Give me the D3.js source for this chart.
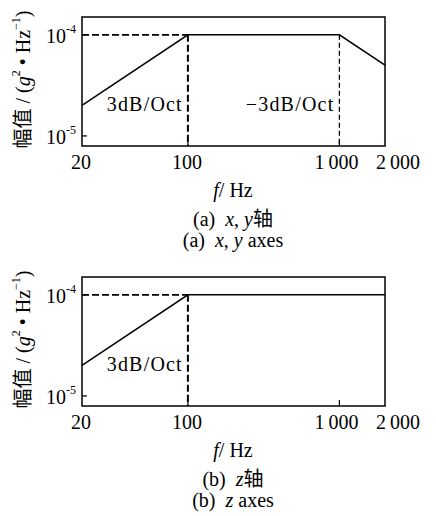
<!DOCTYPE html>
<html lang="en">
<head>
  <meta charset="utf-8">
  <title>PSD</title>
  <script src="https://d3js.org/d3.v7.min.js"></script>
  <style>
    body { margin: 0; background: #fff; }
    text { font-family: "Liberation Serif", "Noto Sans CJK SC", serif; fill: #000; }
  </style>
</head>
<body>
  <div id="chart"></div>
  <script>
    // axis ticks
    var freqTicks = [20, 100, 1000, 2000];
    var freqTickLabels = ["20", "100", "1\u2009000", "2\u2009000"];
    var psdTicks = [1e-4, 1e-5];
    var psdTickExp = ["-4", "-5"];

    // (a) x, y axes spectrum
    var xyFreq = [20, 100, 1000, 2000];
    var xyPsd = [2e-5, 1e-4, 1e-4, 5e-5];
    // (b) z axes spectrum
    var zFreq = [20, 100, 2000];
    var zPsd = [2e-5, 1e-4, 1e-4];

    var W = 436, H = 516;
    var margin = { left: 82 },
      width = 303,
      height = 129;

    var svg = d3.select("#chart").append("svg")
      .attr("width", W).attr("height", H);

    var x = d3.scaleLog().domain([20, 2000]).range([0, width]);
    var y = d3.scaleLog().domain([7.95e-6, 1.5e-4]).range([height, 0]);

    function drawPanel(top, freq, psd, guides, slopes, capCn, capEn) {
      var g = svg.append("g")
        .attr("transform", "translate(" + margin.left + "," + top + ")");

      // frame
      g.append("rect")
        .attr("width", width).attr("height", height)
        .attr("fill", "none").attr("stroke", "#000").attr("stroke-width", 1.5);

      // inner ticks
      g.selectAll(".yt").data(psdTicks).enter().append("line")
        .attr("x1", 0).attr("x2", 5)
        .attr("y1", d => y(d)).attr("y2", d => y(d))
        .attr("stroke", "#000").attr("stroke-width", 1.2);
      g.selectAll(".xt").data([100, 1000]).enter().append("line")
        .attr("x1", d => x(d)).attr("x2", d => x(d))
        .attr("y1", height).attr("y2", height - 6)
        .attr("stroke", "#000").attr("stroke-width", 1.2);

      // dashed guides
      g.append("line")
        .attr("x1", x(20)).attr("x2", x(100))
        .attr("y1", y(1e-4)).attr("y2", y(1e-4))
        .attr("stroke", "#000").attr("stroke-width", 1.8)
        .attr("stroke-dasharray", "7,3");
      guides.forEach(function (f) {
        g.append("line")
          .attr("x1", x(f.f)).attr("x2", x(f.f))
          .attr("y1", y(1e-4)).attr("y2", height)
          .attr("stroke", "#000").attr("stroke-width", f.w)
          .attr("stroke-dasharray", f.dash);
      });

      // spectrum line
      var line = d3.line().x((d, i) => x(freq[i])).y(d => y(d));
      g.append("path").datum(psd)
        .attr("d", line)
        .attr("fill", "none").attr("stroke", "#000").attr("stroke-width", 1.5);

      // slope labels
      slopes.forEach(function (s) {
        g.append("text")
          .attr("x", x(s.f) - 5).attr("y", height - 35)
          .attr("text-anchor", "end")
          .attr("font-size", 20)
          .attr("letter-spacing", 1.2)
          .text(s.t);
      });

      // x tick labels
      g.selectAll(".xl").data(freqTicks).enter().append("text")
        .attr("x", (d, i) => x(d) + (i === 3 ? 13 : (i === 2 ? -3 : -1)))
        .attr("y", height + 23)
        .attr("text-anchor", "middle")
        .attr("font-size", 20)
        .text((d, i) => freqTickLabels[i]);

      // y tick labels
      psdTicks.forEach(function (d, i) {
        var t = g.append("text")
          .attr("x", -6).attr("y", y(d) + 8)
          .attr("text-anchor", "end")
          .attr("font-size", 20);
        t.append("tspan").text("10");
        t.append("tspan").attr("font-size", 12).attr("dy", -10).text(psdTickExp[i]);
      });

      // y title
      var yt = g.append("text")
        .attr("transform", "translate(-52," + (height / 2 - 2) + ") rotate(-90)")
        .attr("text-anchor", "middle")
        .attr("font-size", 20);
      yt.append("tspan").text("幅值 / (");
      yt.append("tspan").attr("font-style", "italic").text("g");
      yt.append("tspan").attr("font-size", 12).attr("dy", -10).text("2");
      yt.append("tspan").attr("dy", 10).text(" \u2022 Hz");
      yt.append("tspan").attr("font-size", 12).attr("dy", -10).text("\u22121");
      yt.append("tspan").attr("dy", 10).text(")");

      // x title
      var xt = g.append("text")
        .attr("x", 151).attr("y", height + 51)
        .attr("text-anchor", "middle")
        .attr("font-size", 20);
      xt.append("tspan").attr("font-style", "italic").text("f");
      xt.append("tspan").text("/ Hz");

      // captions
      var c1 = g.append("text")
        .attr("x", 151).attr("y", height + 80)
        .attr("text-anchor", "middle").attr("font-size", 20);
      capCn.forEach(function (p) {
        c1.append("tspan").attr("font-style", p.i ? "italic" : null).text(p.t);
      });
      var c2 = g.append("text")
        .attr("x", 151).attr("y", height + 101)
        .attr("text-anchor", "middle").attr("font-size", 20);
      capEn.forEach(function (p) {
        c2.append("tspan").attr("font-style", p.i ? "italic" : null).text(p.t);
      });
    }

    drawPanel(17, xyFreq, xyPsd,
      [{ f: 100, w: 2, dash: "7,3" }, { f: 1000, w: 1.3, dash: "5,3" }],
      [{ f: 100, t: "3dB/Oct" }, { f: 1000, t: "\u22123dB/Oct" }],
      [{ t: "(a)\u00a0\u00a0" }, { t: "x", i: true }, { t: ", " }, { t: "y", i: true }, { t: "轴" }],
      [{ t: "(a)\u00a0\u00a0" }, { t: "x", i: true }, { t: ", " }, { t: "y", i: true }, { t: " axes" }]);

    drawPanel(277, zFreq, zPsd,
      [{ f: 100, w: 2, dash: "7,3" }],
      [{ f: 100, t: "3dB/Oct" }],
      [{ t: "(b)\u00a0\u00a0" }, { t: "z", i: true }, { t: "轴" }],
      [{ t: "(b)\u00a0\u00a0" }, { t: "z", i: true }, { t: " axes" }]);
  </script>
</body>
</html>
